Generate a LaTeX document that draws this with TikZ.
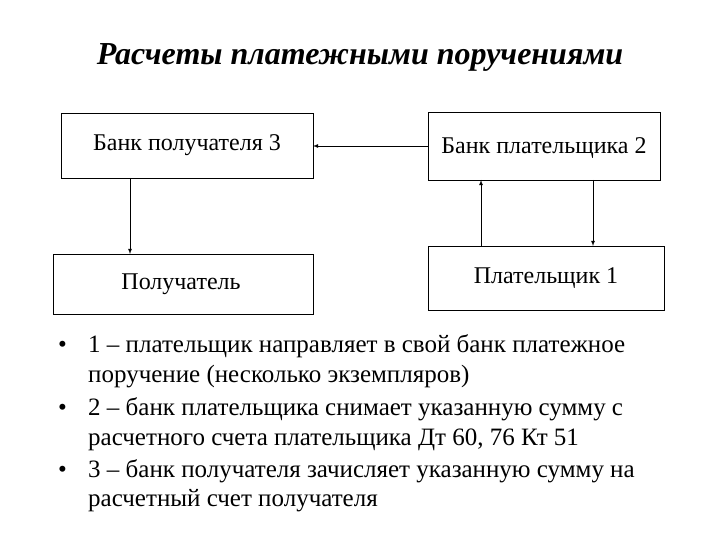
\documentclass[tikz,border=0pt]{standalone}
\usepackage{fontspec}
\setmainfont{Liberation Serif}
\begin{document}
\begin{tikzpicture}[x=1pt,y=-1pt,
  lab/.style={font=\fontsize{24}{26}\selectfont},
  ln/.style={anchor=base west,inner sep=0pt,font=\fontsize{25}{30}\selectfont},
  arr/.style={draw,thick,-latex}]
\useasboundingbox (0,0) rectangle (720,540);
\node[font=\fontsize{32}{36}\selectfont\bfseries\itshape] (t) at (360,57) {Расчеты платежными поручениями};
\draw[thick] (61,113) rectangle (313,178);
\node[lab] (b3) at (187,145) {Банк получателя 3};
\coordinate (b3l) at (313,146); \coordinate (b3b) at (130,178);
\draw[thick] (428,112) rectangle (660,180);
\node[lab] (b2) at (544,148) {Банк плательщика 2};
\coordinate (b2r) at (428,146); \coordinate (b2a) at (481,180); \coordinate (b2b) at (593,180);
\draw[thick] (53,254) rectangle (313,314);
\node[lab] (p) at (181,284) {Получатель};
\coordinate (pt) at (130,254);
\draw[thick] (428,246) rectangle (664,310);
\node[lab] (p1) at (546,278) {Плательщик 1};
\coordinate (p1a) at (481,246); \coordinate (p1b) at (593,246);
\draw[arr] (b2r) -- (b3l);
\draw[arr] (b3b) -- (pt);
\draw[arr] (p1a) -- (b2a);
\draw[arr] (b2b) -- (p1b);
\node[ln] (u1) at (58,352) {•};
\node[ln] (l1) at (88,352) {1 – плательщик направляет в свой банк платежное};
\node[ln] (l2) at (88,382) {поручение (несколько экземпляров)};
\node[ln] (u2) at (58,415) {•};
\node[ln] (l3) at (88,415) {2 – банк плательщика снимает указанную сумму с};
\node[ln] (l4) at (88,445) {расчетного счета плательщика Дт 60, 76 Кт 51};
\node[ln] (u3) at (58,477) {•};
\node[ln] (l5) at (88,477) {3 – банк получателя зачисляет указанную сумму на};
\node[ln] (l6) at (88,506) {расчетный счет получателя};
\end{tikzpicture}
\end{document}
